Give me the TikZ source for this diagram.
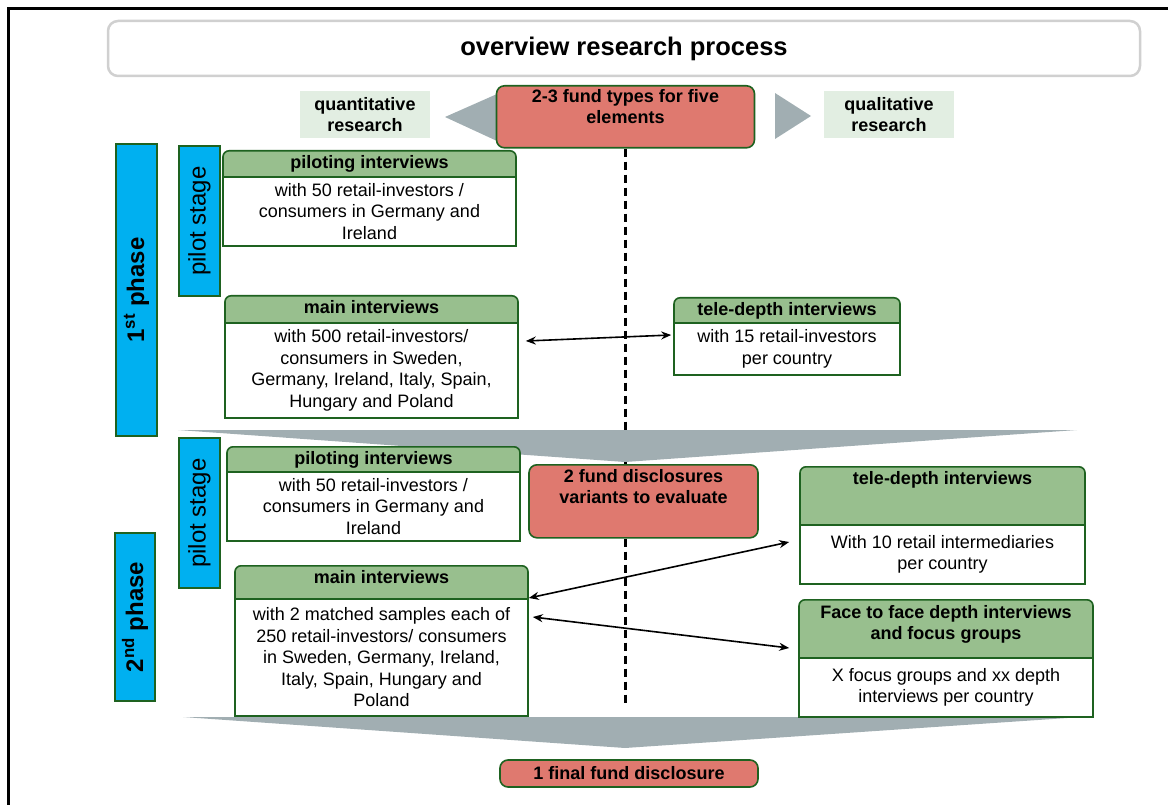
\documentclass[tikz,border=0pt]{standalone}
\usepackage{fontspec}
\setmainfont{Liberation Sans}
\usetikzlibrary{arrows.meta}
\definecolor{hdrgreen}{RGB}{152,191,142}
\definecolor{linegreen}{RGB}{30,98,32}
\definecolor{fundred}{RGB}{223,121,111}
\definecolor{phaseblue}{RGB}{0,176,240}
\definecolor{chevgray}{RGB}{161,174,178}
\definecolor{reslight}{RGB}{226,238,226}
\definecolor{titlegray}{RGB}{208,208,208}

\begin{document}
\begin{tikzpicture}[x=1pt, y=-1pt,
  every node/.style={font=\fontsize{18}{21.5}\selectfont, align=center},
  hdr/.style={draw=linegreen, fill=hdrgreen, line width=1.6pt, rounded corners=6pt, anchor=north, font=\fontsize{18}{21}\selectfont\bfseries, inner ysep=0pt, text height=18pt, text depth=16pt},
  body/.style={draw=linegreen, fill=white, line width=1.6pt, anchor=north},
  fund/.style={draw=linegreen, fill=fundred, line width=1.6pt, rounded corners=8pt, font=\fontsize{18}{21}\selectfont\bfseries, inner ysep=0pt},
  bar/.style={draw=linegreen, fill=phaseblue, line width=1.6pt, rotate=90, inner sep=0pt, font=\fontsize{24}{28}\selectfont},
  res/.style={fill=reslight, font=\fontsize{18}{21}\selectfont\bfseries, minimum width=130pt, minimum height=47pt},
  biarrow/.style={{Stealth[length=10pt,width=8pt]}-{Stealth[length=10pt,width=8pt]}, line width=1.6pt}]
  \useasboundingbox (0,0) rectangle (1168,805);
  \draw [line width=3pt] (8.5,805) -- (8.5,8.5) -- (1168,8.5);
  \node (title) [draw=titlegray, line width=2.5pt, rounded corners=10pt, minimum width=1032pt, minimum height=55pt, font=\fontsize{25.5}{30}\selectfont\bfseries] at (624,48.5) {overview research process};
  \node (quant) [res] at (365,114.5) {quantitative\\research};
  \node (qual) [res] at (889,114.5) {qualitative\\research};
  \fill [chevgray] (445,117) -- (497,94) -- (497,141) -- cycle;
  \fill [chevgray] (775,93) -- (811,116) -- (775,139) -- cycle;
  \node (fund1) [fund, anchor=north, minimum width=258pt, text height=38pt, text depth=24pt] at (625.5,85) {2-3 fund types for five\\elements};
  \coordinate (dashend) at (625.5,703);
  \draw [line width=2.2pt, dash pattern=on 8pt off 5pt] (fund1.south) -- (dashend);
  \fill [chevgray] (178,430) -- (1077,430) -- (625,462) -- cycle;
  \fill [chevgray] (183,717) -- (1082,717) -- (625,748) -- cycle;
  \node (phase1) [bar, minimum width=292pt, minimum height=41pt] at (136.5,290) {\bfseries 1\textsuperscript{st} phase};
  \node (pilot1) [bar, minimum width=150pt, minimum height=41pt] at (199.5,221) {pilot stage};
  \node (pil1h) [hdr, minimum width=293pt] at (369.5,150) {piloting interviews};
  \node (pil1b) [body, minimum width=293pt, minimum height=69pt] at (369.5,176) {with 50 retail-investors /\\consumers in Germany and\\Ireland};
  \node (main1h) [hdr, minimum width=293pt] at (371.5,295) {main interviews};
  \node (main1b) [body, minimum width=293pt, minimum height=95pt] at (371.5,322) {with 500 retail-investors/\\consumers in Sweden,\\Germany, Ireland, Italy, Spain,\\Hungary and Poland};
  \node (tele1h) [hdr, minimum width=226pt] at (787,297) {tele-depth interviews};
  \node (tele1b) [body, minimum width=226pt, minimum height=52pt] at (787,322) {with 15 retail-investors\\per country};
  \draw [biarrow] ([xshift=7pt,yshift=-19pt]main1b.north east) -- ([xshift=-2pt,yshift=-13pt]tele1b.north west);
  \node (fund2) [fund, anchor=north, minimum width=229pt, text height=39pt, text depth=34pt] at (643.5,464) {2 fund disclosures\\variants to evaluate};
  \node (pilot2) [bar, minimum width=150pt, minimum height=41pt] at (199.5,513) {pilot stage};
  \node (phase2) [bar, minimum width=168pt, minimum height=40pt] at (135,617) {\bfseries 2\textsuperscript{nd} phase};
  \node (pil2h) [hdr, minimum width=293pt] at (373.5,446) {piloting interviews};
  \node (pil2b) [body, minimum width=293pt, minimum height=69pt] at (373.5,471) {with 50 retail-investors /\\consumers in Germany and\\Ireland};
  \node (main2h) [hdr, minimum width=293pt, text depth=23pt] at (381.5,565) {main interviews};
  \node (main2b) [body, minimum width=293pt, minimum height=117pt] at (381.5,598) {with 2 matched samples each of\\250 retail-investors/ consumers\\in Sweden, Germany, Ireland,\\Italy, Spain, Hungary and\\Poland};
  \node (tele2h) [hdr, minimum width=285pt, text depth=48pt] at (942.5,466) {tele-depth interviews};
  \node (tele2b) [body, minimum width=285pt, minimum height=59pt] at (942.5,524) {With 10 retail intermediaries\\per country};
  \node (faceh) [hdr, minimum width=294pt, text height=40pt, text depth=26pt] at (946,599) {Face to face depth interviews\\and focus groups};
  \node (faceb) [body, minimum width=294pt, minimum height=59pt] at (946,657) {X focus groups and xx depth\\interviews per country};
  \draw [biarrow] (main2b.north east) -- ([xshift=-10pt,yshift=-18pt]tele2b.north west);
  \draw [biarrow] ([xshift=4pt,yshift=-19pt]main2b.north east) -- ([xshift=-9pt,yshift=9pt]faceb.north west);
  \node (final) [fund, minimum width=258pt, minimum height=27pt] at (629,773.5) {1 final fund disclosure};
\end{tikzpicture}
\end{document}
